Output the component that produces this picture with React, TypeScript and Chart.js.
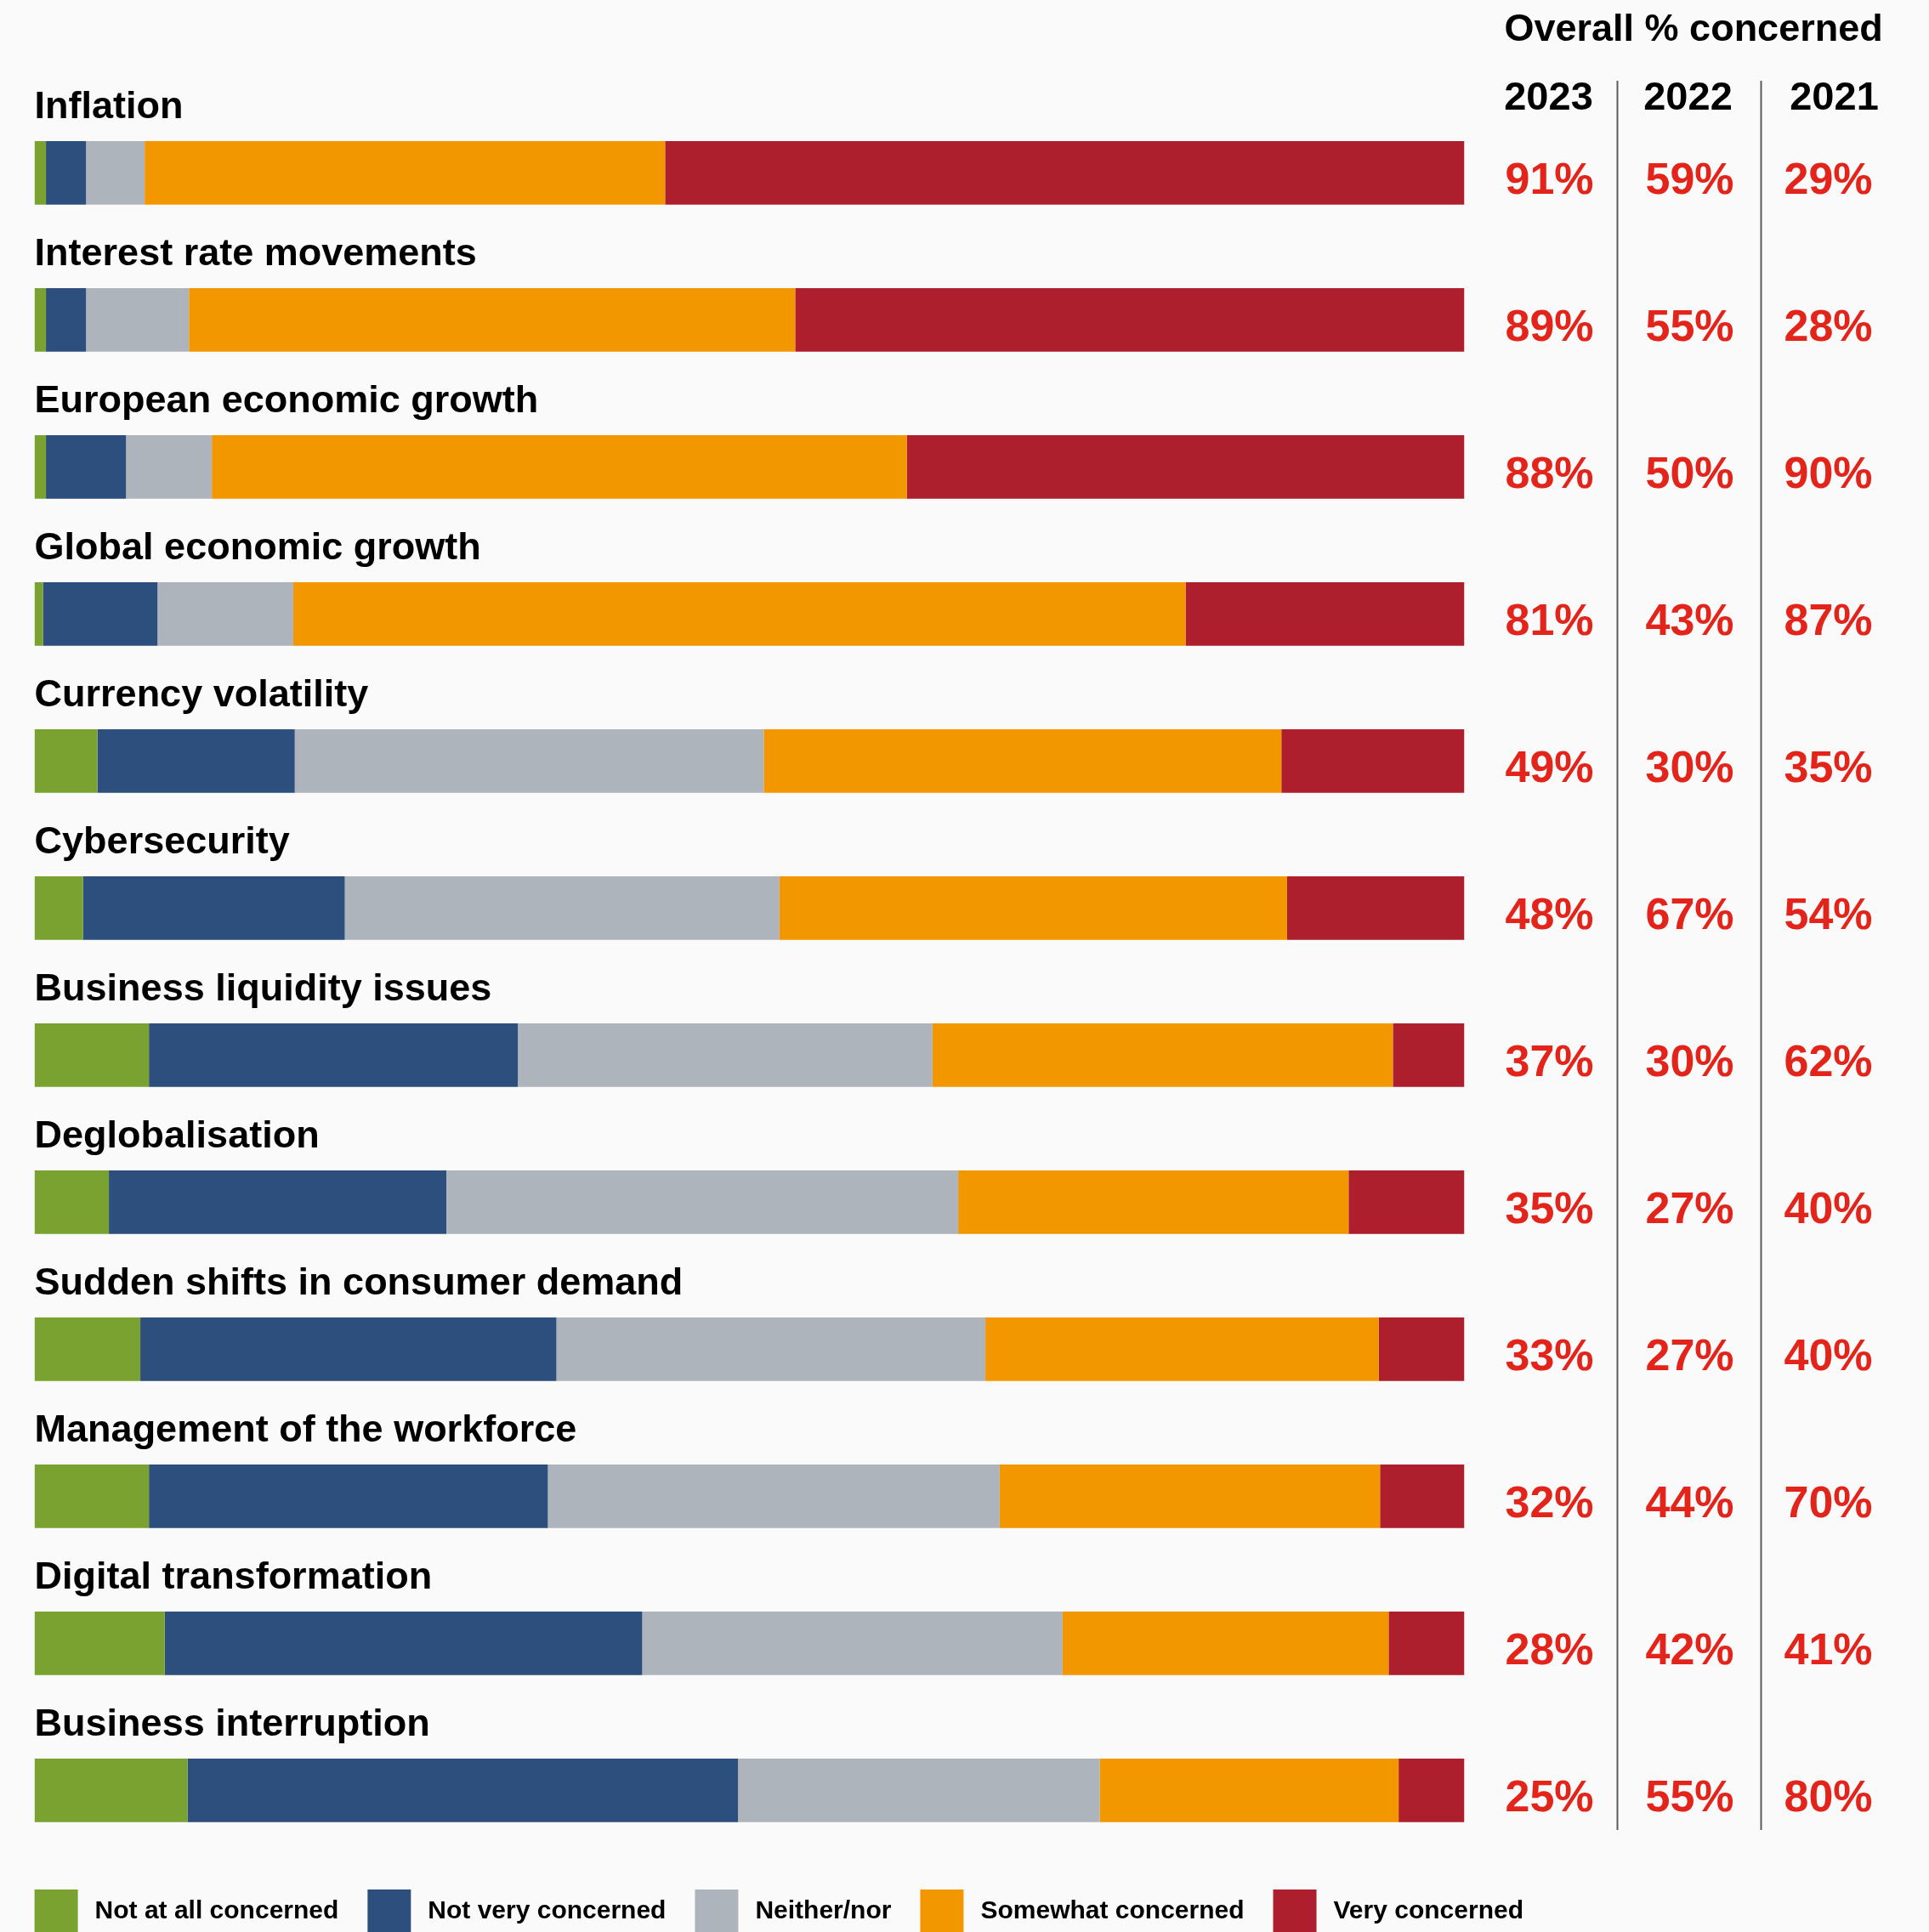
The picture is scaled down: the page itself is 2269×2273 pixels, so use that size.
import { useEffect, useRef } from "react";
import { Chart, registerables } from "chart.js";

Chart.register(...registerables);

const categories = [
  "Inflation",
  "Interest rate movements",
  "European economic growth",
  "Global economic growth",
  "Currency volatility",
  "Cybersecurity",
  "Business liquidity issues",
  "Deglobalisation",
  "Sudden shifts in consumer demand",
  "Management of the workforce",
  "Digital transformation",
  "Business interruption",
];

const seriesLabels = [
  "Not at all concerned",
  "Not very concerned",
  "Neither/nor",
  "Somewhat concerned",
  "Very concerned",
];

const notAtAll = [0.8, 0.8, 0.8, 0.6, 4.4, 3.4, 8.0, 5.2, 7.4, 8.0, 9.1, 10.7];
const notVery = [2.8, 2.8, 5.6, 8.0, 13.8, 18.3, 25.8, 23.6, 29.1, 27.9, 33.4, 38.5];
const neither = [4.1, 7.2, 6.0, 9.5, 32.8, 30.4, 29.0, 35.8, 30.0, 31.6, 29.4, 25.3];
const somewhat = [36.4, 42.4, 48.6, 62.4, 36.2, 35.5, 32.2, 27.3, 27.5, 26.6, 22.8, 20.9];
const very = [55.9, 46.8, 39.0, 19.5, 12.8, 12.4, 5.0, 8.1, 6.0, 5.9, 5.3, 4.6];

const years = ["2023", "2022", "2021"];
const pct2023 = [91, 89, 88, 81, 49, 48, 37, 35, 33, 32, 28, 25];
const pct2022 = [59, 55, 50, 43, 30, 67, 30, 27, 27, 44, 42, 55];
const pct2021 = [29, 28, 90, 87, 35, 54, 62, 40, 40, 70, 41, 80];

const headerTitle = "Overall % concerned";

const colors = ["#79A231", "#2D4F7D", "#AEB4BB", "#F39700", "#AD1F2D"];

const W = 2269;
const H = 2273;
const FONT = '"Liberation Sans", Arial, Helvetica, sans-serif';

export default function App() {
  const ref = useRef<HTMLCanvasElement>(null);

  useEffect(() => {
    const canvas = ref.current;
    if (!canvas) return;

    const pctCols = [pct2023, pct2022, pct2021];

    const overlay = {
      id: "overlay",
      beforeDraw(chart: any) {
        const ctx = chart.ctx;
        ctx.save();
        ctx.fillStyle = "#FAFAFA";
        ctx.fillRect(0, 0, chart.width, chart.height);
        ctx.restore();
      },
      afterDatasetsDraw(chart: any) {
        const ctx = chart.ctx;
        const area = chart.chartArea;
        const meta = chart.getDatasetMeta(0);
        const colCenters = [area.right + 100, area.right + 265, area.right + 428];
        const headCenters = [area.right + 99, area.right + 263, area.right + 435];
        const sepX = [area.right + 180, area.right + 349];

        ctx.save();
        // separators
        ctx.strokeStyle = "#5A5A5A";
        ctx.lineWidth = 2;
        sepX.forEach((x) => {
          ctx.beginPath();
          ctx.moveTo(x, 95);
          ctx.lineTo(x, 2153);
          ctx.stroke();
        });

        // title + year headers
        ctx.fillStyle = "#000";
        ctx.textBaseline = "alphabetic";
        ctx.font = `bold 45px ${FONT}`;
        ctx.textAlign = "left";
        ctx.fillText(headerTitle, area.right + 47, 48);
        ctx.font = `bold 47px ${FONT}`;
        ctx.textAlign = "center";
        years.forEach((y, j) => ctx.fillText(y, headCenters[j], 129));

        meta.data.forEach((bar: any, i: number) => {
          const p = bar.getProps(["y", "height"], true);
          const top = p.y - p.height / 2;
          // category label
          ctx.fillStyle = "#000";
          ctx.textAlign = "left";
          ctx.font = `bold 45px ${FONT}`;
          ctx.fillText(categories[i], area.left, top - 27);
          // percentages
          ctx.fillStyle = "#E3241B";
          ctx.textAlign = "center";
          ctx.font = `bold 52px ${FONT}`;
          pctCols.forEach((arr, j) => {
            ctx.fillText(`${arr[i]}%`, colCenters[j], p.y + 24.5);
          });
        });

        // legend
        ctx.font = `bold 30px ${FONT}`;
        ctx.textAlign = "left";
        ctx.textBaseline = "middle";
        let x = area.left;
        const boxTop = 2223;
        const box = 51;
        chart.data.datasets.forEach((ds: any) => {
          ctx.fillStyle = ds.backgroundColor;
          ctx.fillRect(x, boxTop, box, box);
          ctx.fillStyle = "#000";
          const tx = x + box + 20;
          ctx.fillText(ds.label, tx, boxTop + box / 2);
          x = tx + ctx.measureText(ds.label).width + 34;
        });
        ctx.restore();
      },
    };

    const values = [notAtAll, notVery, neither, somewhat, very];

    const chart = new Chart(canvas, {
      type: "bar",
      data: {
        labels: categories,
        datasets: values.map((v, k) => ({
          label: seriesLabels[k],
          data: v,
          backgroundColor: colors[k],
          borderWidth: 0,
          barPercentage: 1,
          categoryPercentage: 0.432,
        })),
      },
      options: {
        indexAxis: "y",
        responsive: false,
        animation: false,
        devicePixelRatio: 1,
        layout: {
          padding: { left: 40.6, right: W - 1722.5, top: 116.9, bottom: H - 2192.8 },
        },
        plugins: {
          legend: { display: false },
          tooltip: { enabled: false },
          title: { display: false },
        },
        scales: {
          x: { stacked: true, min: 0, max: 100, display: false },
          y: { stacked: true, display: false },
        },
      },
      plugins: [overlay],
    });

    return () => chart.destroy();
  }, []);

  return (
    <div style={{ position: "fixed", left: 0, top: 0, width: W, height: H, background: "#FAFAFA" }}>
      <canvas ref={ref} width={W} height={H} style={{ display: "block", width: W, height: H }} />
    </div>
  );
}
